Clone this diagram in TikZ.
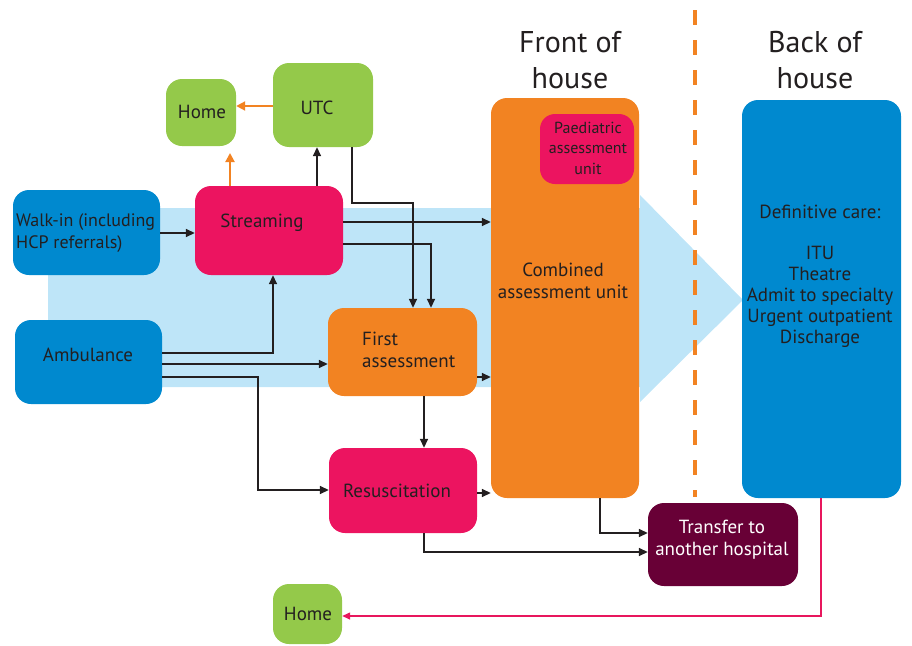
\documentclass[tikz,border=0pt]{standalone}
\usepackage{fontspec}
\setmainfont{PT Sans}
\usetikzlibrary{arrows.meta}
\definecolor{boxblue}{RGB}{0,137,207}
\definecolor{bandblue}{RGB}{190,229,248}
\definecolor{magenta}{RGB}{236,20,96}
\definecolor{boxorange}{RGB}{242,131,34}
\definecolor{boxgreen}{RGB}{148,201,74}
\definecolor{maroon}{RGB}{104,0,54}
\definecolor{ink}{RGB}{35,31,32}
\definecolor{homeline}{RGB}{232,23,93}
\tikzset{
  box/.style={rounded corners=16pt, inner sep=0pt, draw=none},
  label/.style={inner sep=0pt, text=ink, font=\fontsize{19}{22}\selectfont},
  header/.style={inner sep=0pt, text=ink, font=\fontsize{30}{36}\selectfont, align=center},
  arr/.style={draw=ink, line width=1.6pt, -{Triangle[length=9pt,width=8pt]}},
  oarr/.style={draw=boxorange, line width=2pt, -{Triangle[length=9pt,width=9pt]}},
  parr/.style={draw=homeline, line width=1.4pt, -{Triangle[length=8pt,width=7pt]}},
}
\begin{document}
\begin{tikzpicture}[x=1pt,y=-1pt]
\useasboundingbox (0,0) rectangle (912,645);

% wide arrow behind the flow
\fill[bandblue] (48,208) -- (640,208) -- (640,195) -- (743,300) -- (640,402) -- (640,387) -- (48,387) -- cycle;

% divider between front and back of house
\coordinate (divtop) at (695,10);
\coordinate (divbot) at (695,497);
\draw[boxorange, line width=4pt, dash pattern=on 15pt off 15pt] (divtop) -- (divbot);

\node[header] (fronthead) at (570,60) {Front of\\house};
\node[header] (backhead) at (815,60) {Back of\\house};

% boxes
\node[box, fill=boxblue, minimum width=147pt, minimum height=85pt] (walkin) at (86.5,232.5) {};
\node[label, anchor=west, align=left, font=\fontsize{18}{22}\selectfont] (walkintext) at (16,233) {Walk-in (including\\HCP referrals)};
\node[box, fill=boxblue, minimum width=147pt, minimum height=84pt] (amb) at (88.5,362) {};
\node[label] (ambtext) at (88,355) {Ambulance};
\node[box, fill=magenta, minimum width=148pt, minimum height=89pt] (stream) at (269,230.5) {};
\node[label] (streamtext) at (262,223) {Streaming};
\node[box, fill=boxgreen, minimum width=70pt, minimum height=67pt] (home1) at (201,112.5) {};
\node[label] (home1text) at (202,112) {Home};
\node[box, fill=boxgreen, minimum width=100pt, minimum height=84pt] (utc) at (323,105) {};
\node[label] (utctext) at (317,108) {UTC};
\node[box, fill=boxorange, minimum width=149pt, minimum height=88pt] (first) at (402.5,352) {};
\node[label, anchor=west, align=left] (firsttext) at (362,350) {First\\assessment};
\node[box, fill=magenta, minimum width=148pt, minimum height=85pt] (resus) at (403,490.5) {};
\node[label] (resustext) at (397,491) {Resuscitation};
\node[box, fill=boxorange, minimum width=148pt, minimum height=400pt] (comb) at (565,298) {};
\node[label, align=center] (combtext) at (563,281) {Combined\\assessment unit};
\node[box, fill=magenta, rounded corners=15pt, minimum width=94pt, minimum height=70pt] (paed) at (587,149) {};
\node[label, align=center, font=\fontsize{16}{20.5}\selectfont] (paedtext) at (588,148) {Paediatric\\assessment\\unit};
\node[box, fill=boxblue, minimum width=159pt, minimum height=398pt] (back) at (821.5,299) {};
\node[label, align=center, font=\fontsize{19}{21}\selectfont] (backtext) at (820,276) {Definitive care:\\[20pt]ITU\\Theatre\\Admit to specialty\\Urgent outpatient\\Discharge};
\node[box, fill=maroon, minimum width=150pt, minimum height=83pt] (transfer) at (723,544.5) {};
\node[label, align=center, text=white] (transfertext) at (722,540) {Transfer to\\another hospital};
\node[box, fill=boxgreen, minimum width=69pt, minimum height=60pt] (home2) at (307.5,614) {};
\node[label] (home2text) at (308,614) {Home};

% bend points
\coordinate (utcbend) at (413,203);
\coordinate (ambbend) at (258,490);
\coordinate (homegap) at (230,153);

% connectors
\draw[arr] (walkin.east |- 0,233) -- (stream.west |- 0,233);
\draw[arr] (stream.east |- 0,222) -- (comb.west |- 0,222);
\draw[arr] (stream.east |- 0,244) -| (first.north -| 431,0);
\draw[arr] (utc.south -| 352,0) |- (utcbend) -- (first.north -| 413,0);
\draw[arr] (stream.north -| 317,0) -- (utc.south -| 317,0);
\draw[oarr] (stream.north -| 230,0) -- (homegap);
\draw[oarr] (utc.west |- 0,106) -- (home1.east |- 0,106);
\draw[arr] (amb.east |- 0,353) -| (stream.south -| 273,0);
\draw[arr] (amb.east |- 0,364) -- (first.west |- 0,364);
\draw[arr] (amb.east |- 0,377) -| (ambbend) -- (resus.west |- 0,490);
\draw[arr] (first.east |- 0,377) -- (comb.west |- 0,377);
\draw[arr] (first.south -| 424,0) -- (resus.north -| 424,0);
\draw[arr] (resus.east |- 0,493) -- (comb.west |- 0,493);
\draw[arr] (comb.south -| 600,0) |- (transfer.west |- 0,533);
\draw[arr] (resus.south -| 424,0) |- (transfer.west |- 0,552);
\draw[parr] (back.south -| 821,0) |- (home2.east |- 0,616);
\end{tikzpicture}
\end{document}
